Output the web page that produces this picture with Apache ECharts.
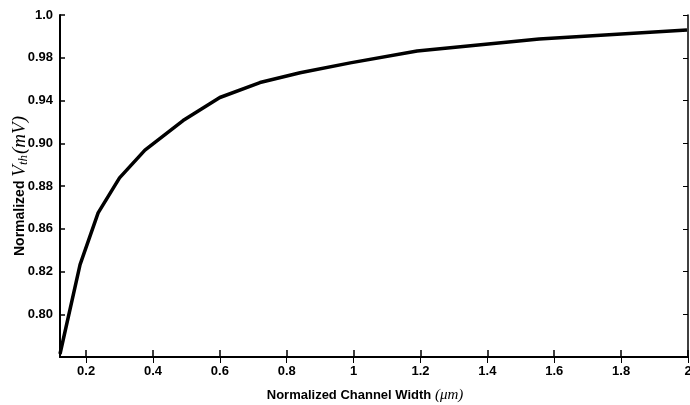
<!DOCTYPE html>
<html>
<head>
<meta charset="utf-8">
<script src="https://cdn.jsdelivr.net/npm/echarts@6/dist/echarts.min.js"></script>
<style>
html,body{margin:0;padding:0;background:#fff;}
#chart{width:690px;height:405px;}
</style>
</head>
<body>
<div id="chart"></div>
<script>
// Channel width (normalized, µm)
var widthValues = [0.122, 0.182, 0.236, 0.30, 0.376, 0.49, 0.60, 0.72, 0.84, 0.99, 1.19, 1.555, 1.997];
// Vth position on the (evenly spaced) printed y scale, in tick steps above the bottom edge
var vthPos = [0.07, 2.16, 3.37, 4.19, 4.84, 5.53, 6.07, 6.42, 6.65, 6.88, 7.16, 7.44, 7.65];
// Tick labels as printed on the figure
var xTickValues = [0.2, 0.4, 0.6, 0.8, 1.0, 1.2, 1.4, 1.6, 1.8, 2.0];
var xTickLabels = ['0.2', '0.4', '0.6', '0.8', '1', '1.2', '1.4', '1.6', '1.8', '2'];
var yTickValues = [1, 2, 3, 4, 5, 6, 7, 8];
var yTickLabels = ['0.80', '0.82', '0.86', '0.88', '0.90', '0.94', '0.98', '1.0'];

var data = widthValues.map(function (w, i) { return [w, vthPos[i]]; });
var tickFont = "'Liberation Sans Narrow', 'Arial Narrow', 'Liberation Sans', Arial, sans-serif";
var serif = "'Liberation Serif', 'DejaVu Serif', 'Times New Roman', serif";

var chart = echarts.init(document.getElementById('chart'), null, {renderer: 'canvas'});
chart.setOption({
  animation: false,
  backgroundColor: '#fff',
  grid: {left: 60, right: 2, top: 15, bottom: 48, show: false, containLabel: false, outerBoundsMode: 'none'},
  xAxis: [{
    type: 'value', position: 'bottom', min: 0.122, max: 2.0,
    splitLine: {show: false},
    axisLine: {show: true, lineStyle: {color: '#000', width: 2}},
    axisTick: {show: true, inside: true, length: 7, customValues: xTickValues, lineStyle: {color: '#000', width: 1.5}},
    axisLabel: {
      customValues: xTickValues, margin: 8, hideOverlap: false,
      fontFamily: tickFont, fontWeight: 'bold', fontSize: 13, color: '#000',
      formatter: function (v) {
        var i = xTickValues.findIndex(function (t) { return Math.abs(t - v) < 1e-6; });
        return i >= 0 ? xTickLabels[i] : '';
      }
    },
    name: '{a|Normalized Channel Width }{b|(μm)}',
    nameLocation: 'middle', nameGap: 31, nameMoveOverlap: false,
    nameTextStyle: {
      padding: [0, 18, 0, 0],
      rich: {
        a: {fontFamily: "'Liberation Sans', Arial, sans-serif", fontWeight: 'bold', fontSize: 13, color: '#000'},
        b: {fontFamily: serif, fontStyle: 'italic', fontSize: 15, color: '#000'}
      }
    }
  }, {
    type: 'value', position: 'top', min: 0.122, max: 2.0,
    splitLine: {show: false},
    axisLine: {show: true, lineStyle: {color: '#000', width: 1.5}},
    axisTick: {show: true, inside: true, length: 6, customValues: xTickValues, lineStyle: {color: '#000', width: 1}},
    axisLabel: {show: false}
  }],
  yAxis: [{
    type: 'value', position: 'left', min: 0, max: 8,
    splitLine: {show: false},
    axisLine: {show: true, lineStyle: {color: '#000', width: 2}},
    axisTick: {show: true, inside: true, length: 5, customValues: yTickValues, lineStyle: {color: '#000', width: 1.5}},
    axisLabel: {
      customValues: yTickValues, margin: 7, hideOverlap: false,
      fontFamily: tickFont, fontWeight: 'bold', fontSize: 13, color: '#000',
      formatter: function (v) {
        var i = yTickValues.indexOf(Math.round(v));
        return i >= 0 ? yTickLabels[i] : '';
      }
    },
    name: '{a|Normalized }{v|V}{s|th}{b|(mV)}',
    nameLocation: 'middle', nameRotate: 90, nameGap: 30, nameMoveOverlap: false,
    nameTextStyle: {
      rich: {
        a: {fontFamily: "'Liberation Sans', Arial, sans-serif", fontWeight: 'bold', fontSize: 14, color: '#000'},
        v: {fontFamily: serif, fontStyle: 'italic', fontSize: 19, color: '#000'},
        s: {fontFamily: serif, fontStyle: 'italic', fontSize: 13, color: '#000', verticalAlign: 'bottom', padding: [7, 1, 0, 0]},
        b: {fontFamily: serif, fontStyle: 'italic', fontSize: 19, color: '#000'}
      }
    }
  }, {
    type: 'value', position: 'right', min: 0, max: 8,
    splitLine: {show: false},
    axisLine: {show: true, lineStyle: {color: '#000', width: 1.5}},
    axisTick: {show: true, inside: true, length: 5, customValues: yTickValues, lineStyle: {color: '#000', width: 1}},
    axisLabel: {show: false}
  }],
  series: [{
    type: 'line', xAxisIndex: 0, yAxisIndex: 0,
    data: data, showSymbol: false, smooth: false,
    lineStyle: {color: '#000', width: 3.5},
    clip: true
  }]
});
</script>
</body>
</html>
